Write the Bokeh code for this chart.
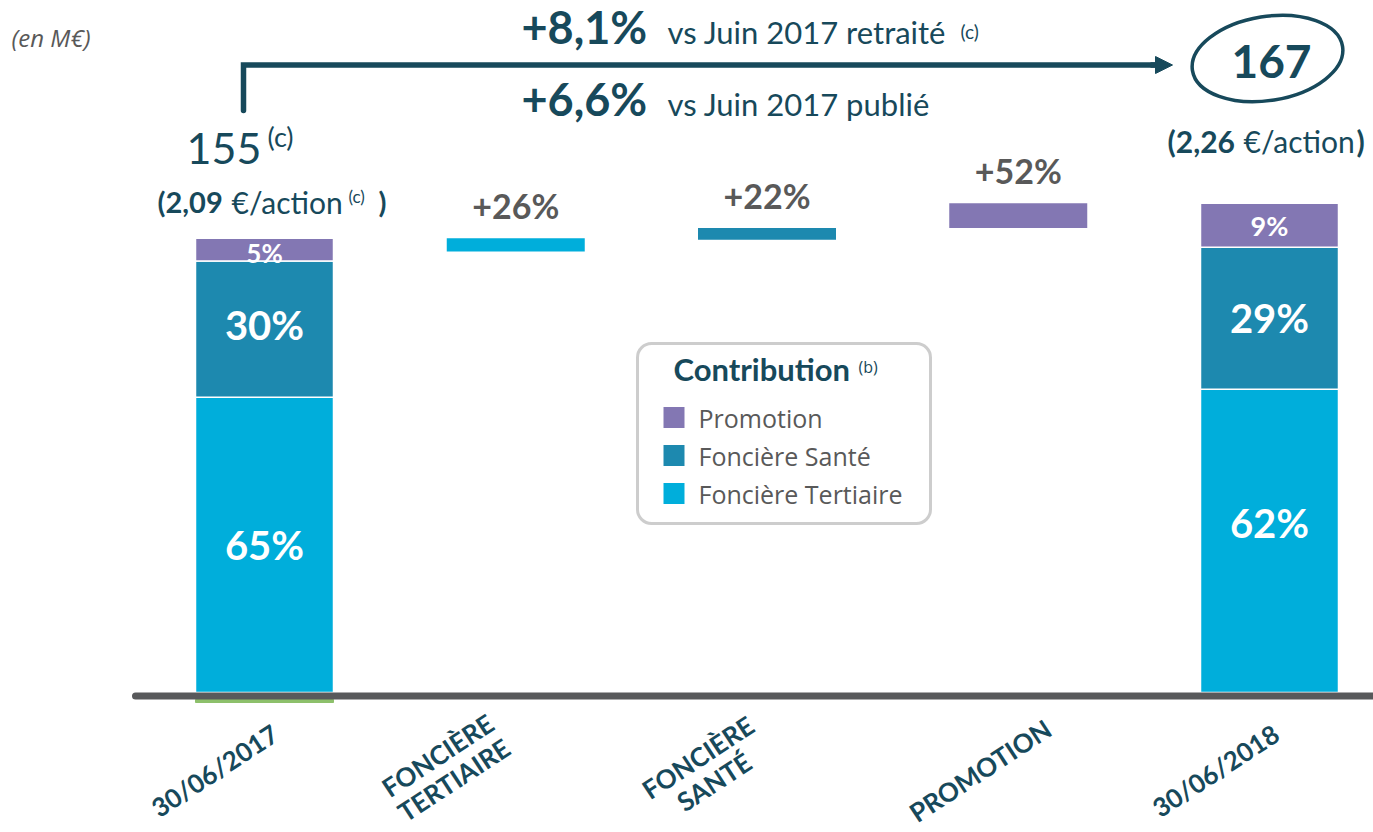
from bokeh.plotting import figure
from bokeh.models import Range1d, Arrow, NormalHead, BoxAnnotation, ColumnDataSource
from bokeh.core.properties import value
from bokeh.embed import file_html
from bokeh.resources import INLINE

# ---------------- data ----------------
categories = ["30/06/2017", "FONCIÈRE\nTERTIAIRE", "FONCIÈRE\nSANTÉ", "PROMOTION", "30/06/2018"]
segments = ["Foncière Tertiaire", "Foncière Santé", "Promotion"]
start_total = 155
end_total = 167
start_shares = [65, 30, 5]
end_shares = [62, 29, 9]
step_labels = ["+26%", "+22%", "+52%"]
step_low = [150.5, 154.5, 158.5]
step_high = [155.0, 158.5, 167.0]
growth_restated = "+8,1%"
growth_published = "+6,6%"
eps_start = "2,09"
eps_end = "2,26"

# ---------------- style ----------------
C_TERT = "#00AEDB"
C_SANTE = "#1D89AF"
C_PROMO = "#8377B3"
seg_colors = [C_TERT, C_SANTE, C_PROMO]
TEAL = "#17495B"
GREY = "#595959"
LATO = value("Lato")
OPEN = value("Open Sans")

W, H = 1373, 832
PX_PER_CAT = 251.25
PX_PER_UNIT = 2.93


def X(px):
    return (px - 264.0) / PX_PER_CAT


def Y(py):
    return (692.0 - py) / PX_PER_UNIT


def M(baseline_px, fs):
    # vertical middle of a text line whose baseline sits at baseline_px
    return Y(baseline_px - 0.36 * fs)


bar_w = 138.0 / PX_PER_CAT

p = figure(width=W, height=H, x_range=Range1d(X(0), X(W)), y_range=Range1d(Y(H), Y(0)),
           output_backend="svg", toolbar_location=None, min_border=0,
           x_axis_type=None, y_axis_type=None, outline_line_color=None,
           background_fill_color="white", border_fill_color="white")
p.grid.visible = False


def txt(x, y, s, fs, color=TEAL, bold=False, font=LATO, align="left", style=None):
    p.text(x=[x], y=[y], text=[s], text_font=font, text_font_size=f"{fs}px",
           text_font_style=style or ("bold" if bold else "normal"), text_color=color,
           text_align=align, text_baseline="middle")


# ---------------- stacked start / end bars ----------------
xs, bottoms, tops, cols, mids, labs = [], [], [], [], [], []
for xi, total, shares in [(0, start_total, start_shares), (4, end_total, end_shares)]:
    acc = 0.0
    for share, col in zip(shares, seg_colors):
        h = total * share / 100.0
        xs.append(xi)
        bottoms.append(acc)
        tops.append(acc + h)
        cols.append(col)
        mids.append(acc + h / 2)
        labs.append(f"{share}%")
        acc += h

src = ColumnDataSource(dict(x=xs, bottom=bottoms, top=tops, color=cols, mid=mids, lab=labs,
                            size=["40px", "40px", "26px", "40px", "40px", "27px"],
                            yoff=[0, -4, 3, -18, 0, 0]))
p.vbar(x="x", bottom="bottom", top="top", width=bar_w, fill_color="color",
       line_color="white", line_width=1.5, source=src)
p.text(x="x", y="mid", text="lab", text_font=LATO, text_font_size="size", text_font_style="bold",
       text_color="white", text_align="center", text_baseline="middle", y_offset="yoff", source=src)

# ---------------- floating step bars ----------------
step_src = ColumnDataSource(dict(x=[1, 2, 3], low=step_low, high=step_high,
                                 color=seg_colors, lab=step_labels))
p.vbar(x="x", bottom="low", top="high", width=bar_w, fill_color="color", line_color=None, source=step_src)
p.text(x="x", y="high", text="lab", text_font=LATO, text_font_size="34px", text_font_style="bold",
       text_color=GREY, text_align="center", text_baseline="middle", y_offset=-33, source=step_src)

# thin green edge and baseline
p.vbar(x=[0], bottom=[Y(702)], top=[Y(699)], width=bar_w, color="#8DC06B")
p.line(x=[X(135), X(1380)], y=[Y(695.5), Y(695.5)], line_width=7, line_color="#58595B", line_cap="round")

# ---------------- category labels ----------------
p.text(x=[0, 1, 2, 3, 4], y=[Y(770)] * 5, text=categories, angle=0.58,
       x_offset=[-50, -70, -61, -38, -54], y_offset=[0, -3, -1, 0, 0],
       text_font=LATO, text_font_size="26px",
       text_font_style="bold", text_color=TEAL, text_align="center", text_baseline="middle",
       text_line_height=0.92)

# ---------------- header texts ----------------
txt(X(11), Y(37), "(en M€)", 24, color=GREY, font=OPEN, style="italic")

txt(X(521), M(43, 45), growth_restated, 45, bold=True)
txt(X(521), M(115, 45), growth_published, 45, bold=True)
txt(X(667), M(43, 31), "vs Juin 2017 retraité", 31)
txt(X(667), M(115, 31), "vs Juin 2017 publié", 31)
txt(X(960), Y(31), "(c)", 19)

# bracket + arrow
p.line(x=[X(243), X(243), X(1158)], y=[Y(110), Y(64.5), Y(64.5)], line_width=5.5,
       line_color=TEAL, line_join="miter", line_cap="round")
p.add_layout(Arrow(end=NormalHead(size=17, fill_color=TEAL, line_color=TEAL),
                   x_start=X(1150), y_start=Y(64.5), x_end=X(1172), y_end=Y(64.5),
                   line_color=TEAL, line_width=5.5))

# start value
txt(X(186), M(163, 43), str(start_total), 43)
txt(X(267), Y(136), "(c)", 27)
txt(X(157), Y(201), "(" + eps_start, 29, bold=True)
txt(X(231), Y(201), "€/action", 30)
txt(X(348), Y(196), "(c)", 17)
txt(X(378), Y(201), ")", 29, bold=True)

# end value, circled
p.ellipse(x=[X(1267)], y=[Y(58)], width=[152], height=[84], width_units="screen",
          height_units="screen", angle=0.16, fill_alpha=0, line_color=TEAL, line_width=3.5)
txt(X(1271), M(78, 46), str(end_total), 46, bold=True, align="center")
txt(X(1167), Y(140), "(" + eps_end, 30, bold=True)
txt(X(1243), Y(140), "€/action", 30)
txt(X(1356), Y(140), ")", 30, bold=True)

# ---------------- legend box ----------------
p.add_layout(BoxAnnotation(left=X(637), right=X(930), top=Y(343), bottom=Y(523),
                           fill_color="white", fill_alpha=1, line_color=GREY, line_width=3,
                           border_radius=14, level="underlay"))
txt(X(673), M(380, 31), "Contribution", 31, bold=True)
txt(X(858), Y(366), "(b)", 16, font=OPEN)
leg_names = list(reversed(segments))
leg_cols = list(reversed(seg_colors))
leg_y = [Y(417), Y(455), Y(493)]
p.scatter(x=[X(673.5)] * 3, y=leg_y, marker="square", size=21, fill_color=leg_cols, line_color=None)
p.text(x=[X(698)] * 3, y=leg_y, text=leg_names, text_font=OPEN, text_font_size="25px",
       text_color=GREY, text_baseline="middle")

open("out.html", "w").write(file_html(p, INLINE))
